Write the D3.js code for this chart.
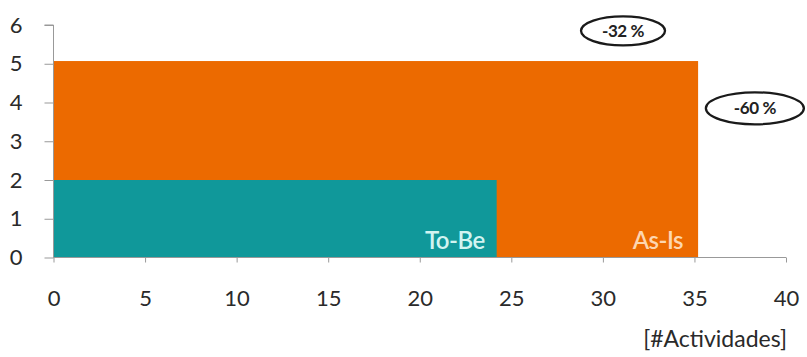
<!DOCTYPE html>
<html><head><meta charset="utf-8">
<script src="https://cdn.jsdelivr.net/npm/d3@7"></script>
<style>body{margin:0;background:#fff}svg{display:block}text{font-family:Lato,sans-serif}</style>
</head><body>
<svg id="c" width="807" height="357"></svg>
<script>
const series = ["As-Is", "To-Be"];
const widths = [35.2, 24.2];
const heights = [5.07, 2.0];
const colors = ["#EC6A00", "#10989A"];
const labelColors = ["#FDD6B0", "#D2F4F1"];
const xTicks = [0,5,10,15,20,25,30,35,40];
const yTicks = [0,1,2,3,4,5,6];
const notes = [{text:"-32 %", x:31.1, y:5.85}, {text:"-60 %", x:38.3, y:3.85}];
const xTitle = "[#Actividades]";

const svg = d3.select("#c");
const x = d3.scaleLinear().domain([0,40]).range([53.5,786]);
const y = d3.scaleLinear().domain([0,6]).range([257.5,25]);

svg.selectAll("rect.bar").data(series).join("rect").attr("class","bar")
  .attr("x", x(0)).attr("y", (d,i)=>y(heights[i]))
  .attr("width",(d,i)=>x(widths[i])-x(0)).attr("height",(d,i)=>y(0)-y(heights[i]))
  .attr("fill",(d,i)=>colors[i]);

svg.selectAll("text.lbl").data(series).join("text").attr("class","lbl")
  .attr("x",(d,i)=>x(widths[i])-(i?12:15)).attr("y", y(0)-9)
  .attr("text-anchor","end").attr("font-size",24).attr("font-weight",600).attr("fill",(d,i)=>labelColors[i])
  .style("letter-spacing","-0.5px").text(d=>d);

const xa = svg.append("g").attr("transform",`translate(0,${y(0)})`)
  .call(d3.axisBottom(x).tickValues(xTicks).tickFormat(d3.format("d")).tickSize(5).tickPadding(27));
const ya = svg.append("g").attr("transform",`translate(${x(0)},0)`)
  .call(d3.axisLeft(y).tickValues(yTicks).tickFormat(d3.format("d")).tickSize(9).tickPadding(22));
[xa,ya].forEach(g=>{
  g.select(".domain").attr("stroke","#999");
  g.selectAll(".tick line").attr("stroke","#999");
  g.selectAll(".tick text").attr("font-size",22).attr("fill","#2a2a2a").style("font-family","Lato");
});
xa.selectAll(".tick text").attr("dy","0.35em").attr("y",41);
ya.select(".domain").attr("d",`M-9,${y(6)}H0V${y(0)}`);
xa.select(".domain").attr("d",`M${x(0)},0H${x(40)}`);

svg.append("text").attr("x",787).attr("y",347).attr("text-anchor","end")
  .attr("font-size",23).attr("fill","#2a2a2a").text(xTitle);

const ng = svg.selectAll("g.note").data(notes).join("g").attr("class","note")
  .attr("transform",d=>`translate(${x(d.x)},${y(d.y)})`);
ng.append("ellipse").attr("rx",(d,i)=>i?49:42).attr("ry",(d,i)=>i?16:14.5)
  .attr("fill","#fff").attr("stroke","#1a1a1a").attr("stroke-width",2.3);
ng.append("text").attr("text-anchor","middle").attr("dy","0.35em").attr("font-size",17)
  .attr("font-weight","bold").attr("fill","#222").style("letter-spacing","-0.4px").text(d=>d.text);
</script>
</body></html>
